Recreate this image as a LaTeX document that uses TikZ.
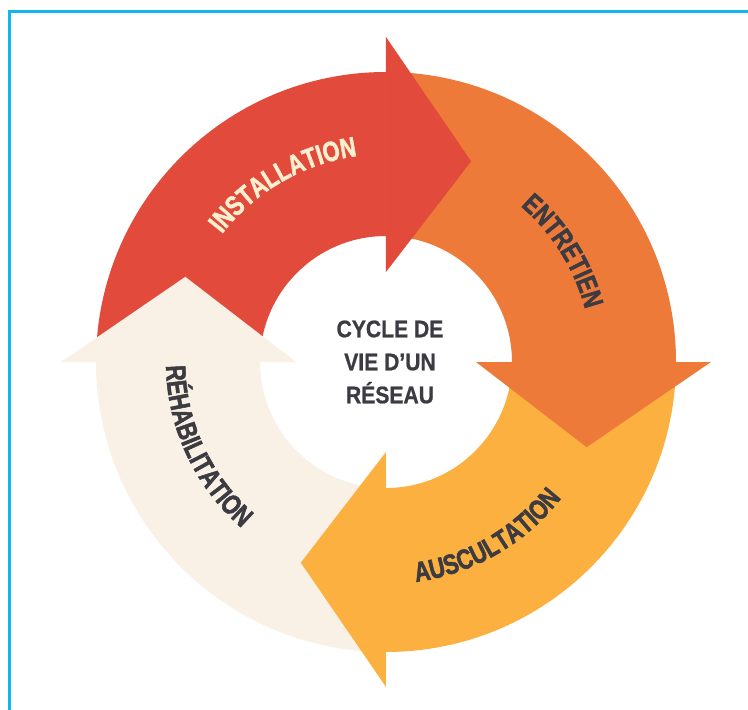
\documentclass[tikz,border=0pt]{standalone}
\usepackage{fontspec}
\setmainfont{Liberation Sans}
\newfontfamily\labelfont{Liberation Sans}[FakeStretch=0.78, FakeBold=1.8, LetterSpace=5]
\newfontfamily\hubfont{Liberation Sans}[FakeStretch=0.88, FakeBold=0.8]
\usetikzlibrary{decorations.text}

\definecolor{instred}{HTML}{E24B3B}
\definecolor{entorange}{HTML}{EE7A3A}
\definecolor{ausyellow}{HTML}{FBB040}
\definecolor{rehcream}{HTML}{FAF1E6}
\definecolor{inkgray}{HTML}{3C3B41}
\definecolor{palecream}{HTML}{FCEFCF}
\definecolor{framecyan}{HTML}{12B5EE}

\tikzset{
  ringlabel/.style={decorate, decoration={text along path, text align=center, text color=#1}},
}
\newcommand{\ringtext}{\labelfont\bfseries\fontsize{28}{30}\selectfont}

\begin{document}
\begin{tikzpicture}[x=1pt,y=1pt]
  \useasboundingbox (-386,-348) rectangle (362,362);
  \fill[white] (-386,-348) rectangle (362,362);

  % frame (left and top edges)
  \draw[framecyan, line width=3pt] (-376,-348) -- (-376,350) -- (362,350);

  % ring segments: each covers a quarter turn ending at its arrow back
  \foreach \b/\c in {90/instred, 0/entorange, -90/ausyellow, 180/rehcream}
    \fill[\c] (\b+90:290) arc[start angle=\b+90, end angle=\b, radius=290]
      -- (\b:126) arc[start angle=\b, end angle=\b+90, radius=126] -- cycle;

  % arrow heads, laid over the following segment
  \foreach \b/\c in {90/instred, 0/entorange, -90/ausyellow, 180/rehcream}
    \fill[\c] (\b:90) -- (\b:325) -- (\b-23:218) -- cycle;

  % curved labels
  \path[ringlabel=palecream, decoration={text={|\ringtext|INSTALLATION}}]
    (170:208) arc[start angle=170, end angle=70, radius=208];
  \path[ringlabel=inkgray, decoration={text={|\ringtext|ENTRETIEN}}]
    (82:206) arc[start angle=82, end angle=-18, radius=206];
  \path[ringlabel=inkgray, decoration={text={|\ringtext|AUSCULTATION}}]
    (-110:222) arc[start angle=-110, end angle=-10, radius=222];
  \path[ringlabel=inkgray, decoration={text={|\ringtext|RÉHABILITATION}}]
    (155:220) arc[start angle=155, end angle=255, radius=220];

  % centre title
  \node[text=inkgray, align=center, font=\hubfont\bfseries\fontsize{24}{33}\selectfont]
    (hub) at (4,0) {CYCLE DE\\VIE D’UN\\RÉSEAU};
\end{tikzpicture}
\end{document}
